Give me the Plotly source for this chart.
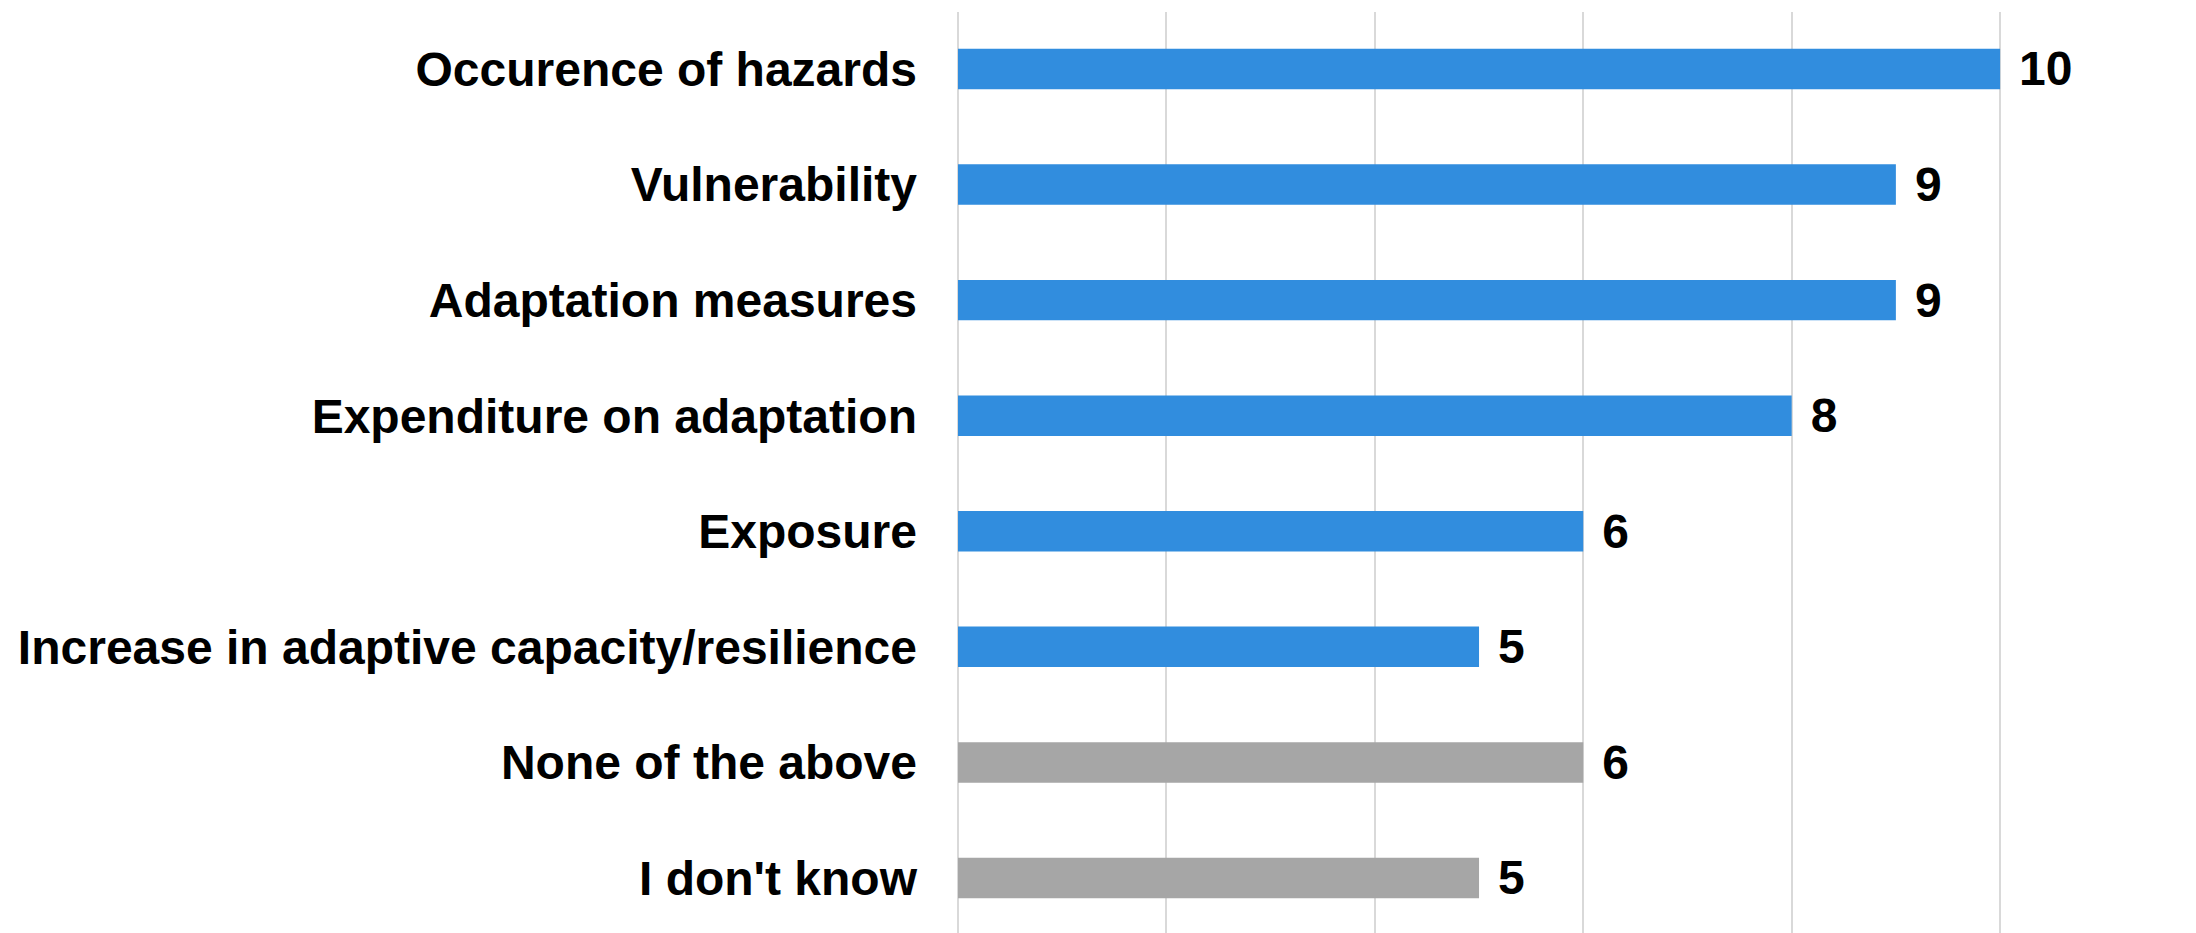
import plotly.graph_objects as go

# Categories (top to bottom) and values
categories = [
    "Occurence of hazards",
    "Vulnerability",
    "Adaptation measures",
    "Expenditure on adaptation",
    "Exposure",
    "Increase in adaptive capacity/resilience",
    "None of the above",
    "I don't know",
]
counts = [10, 9, 9, 8, 6, 5, 6, 5]
groups = ["topic", "topic", "topic", "topic", "topic", "topic", "other", "other"]

group_colors = {"topic": "#318DDE", "other": "#A6A6A6"}
bar_colors = [group_colors[g] for g in groups]

fig = go.Figure()

fig.add_trace(go.Bar(
    y=categories,
    x=counts,
    orientation="h",
    width=0.35,
    marker=dict(color=bar_colors, line=dict(width=0)),
    text=counts,
    texttemplate="\u2004%{x}",
    textposition="outside",
    constraintext="none",
    cliponaxis=False,
    textfont=dict(family="Liberation Sans", size=48, color="black", weight="bold"),
    hoverinfo="skip",
))

# page body has an 8px margin, so the figure is sized to fit inside it
fig.update_layout(
    width=2188,
    height=925,
    margin=dict(l=950, r=0, t=4, b=0, autoexpand=False),
    plot_bgcolor="white",
    paper_bgcolor="white",
    showlegend=False,
    font=dict(family="Liberation Sans", size=48, color="black"),
    xaxis=dict(
        range=[0, 11.88],
        dtick=2,
        showticklabels=False,
        showgrid=True,
        gridcolor="#D9D9D9",
        gridwidth=1.5,
        zeroline=True,
        zerolinecolor="#D9D9D9",
        zerolinewidth=1.5,
        showline=False,
        automargin=False,
    ),
    yaxis=dict(
        categoryorder="array",
        categoryarray=categories,
        range=[7.476, -0.493],
        showgrid=False,
        zeroline=False,
        showline=False,
        ticks="",
        automargin=False,
        ticklabelstandoff=40,
        tickfont=dict(family="Liberation Sans", size=48, color="black", weight="bold"),
    ),
)

fig.write_html("out.html", config={"displayModeBar": False})
